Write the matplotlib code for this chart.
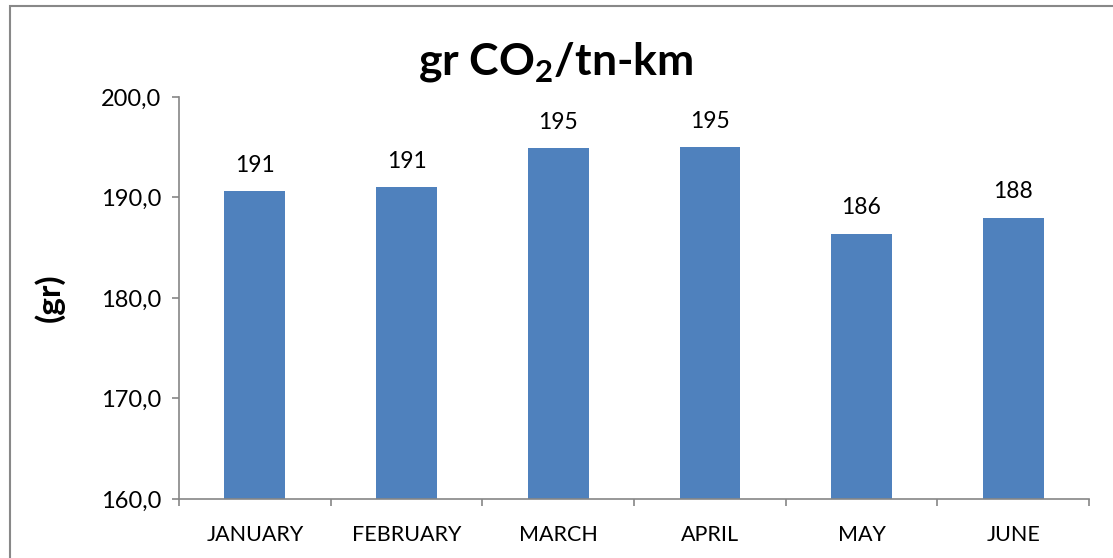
import matplotlib.pyplot as plt
from matplotlib.patches import Rectangle
import numpy as np

months = ['JANUARY', 'FEBRUARY', 'MARCH', 'APRIL', 'MAY', 'JUNE']
values = [190.6, 191.0, 194.9, 195.0, 186.4, 188.0]
yticks = [160, 170, 180, 190, 200]

plt.rcParams['font.family'] = ['Lato', 'DejaVu Sans']
plt.rcParams['mathtext.fontset'] = 'custom'
plt.rcParams['mathtext.bf'] = 'Lato:bold'
plt.rcParams['mathtext.rm'] = 'Lato'

fig = plt.figure(figsize=(11.13, 5.58), dpi=100)
ax = fig.add_axes([179/1113, 59/558, 910/1113, 402/558])

x = np.arange(len(months))
bars = ax.bar(x, values, width=0.4, color='#4F81BD', zorder=2)
for xi, v in zip(x, values):
    ax.annotate(f'{v:.0f}', (xi, v), xytext=(0, 11), textcoords='offset points',
                ha='center', va='bottom', fontsize=16.5)

ax.set_xlim(-0.5, len(months) - 0.5)
ax.set_ylim(160, 200)
ax.set_yticks(yticks)
ax.set_yticklabels([f'{t:.1f}'.replace('.', ',') for t in yticks], fontsize=17)
ax.set_xticks(x)
ax.set_xticklabels(months, fontsize=15.5)
ax.set_xticks(np.arange(len(months) + 1) - 0.5, minor=True)
ax.tick_params(axis='x', which='major', length=0, pad=19)
ax.tick_params(axis='x', which='minor', length=5, width=1.2, color='#868686', direction='out')
ax.tick_params(axis='y', length=5, width=1.2, color='#868686', pad=8)

for s in ['top', 'right']:
    ax.spines[s].set_visible(False)
for s in ['left', 'bottom']:
    ax.spines[s].set_color('#868686')
    ax.spines[s].set_linewidth(1.2)

ax.set_ylabel('(gr)', fontsize=24, fontweight='bold', labelpad=26)
fig.text(556/1113, 1 - 62/558, r'gr CO$_\mathbf{2}$/tn-km', ha='center', va='center',
         fontsize=32, fontweight='bold')

fig.patches.append(Rectangle((10/1113, -0.2), 1.2, 1 - 6/558 + 0.2, transform=fig.transFigure,
                             fill=False, edgecolor='#888888', linewidth=1.5))

fig.savefig('out.png', dpi=100)
